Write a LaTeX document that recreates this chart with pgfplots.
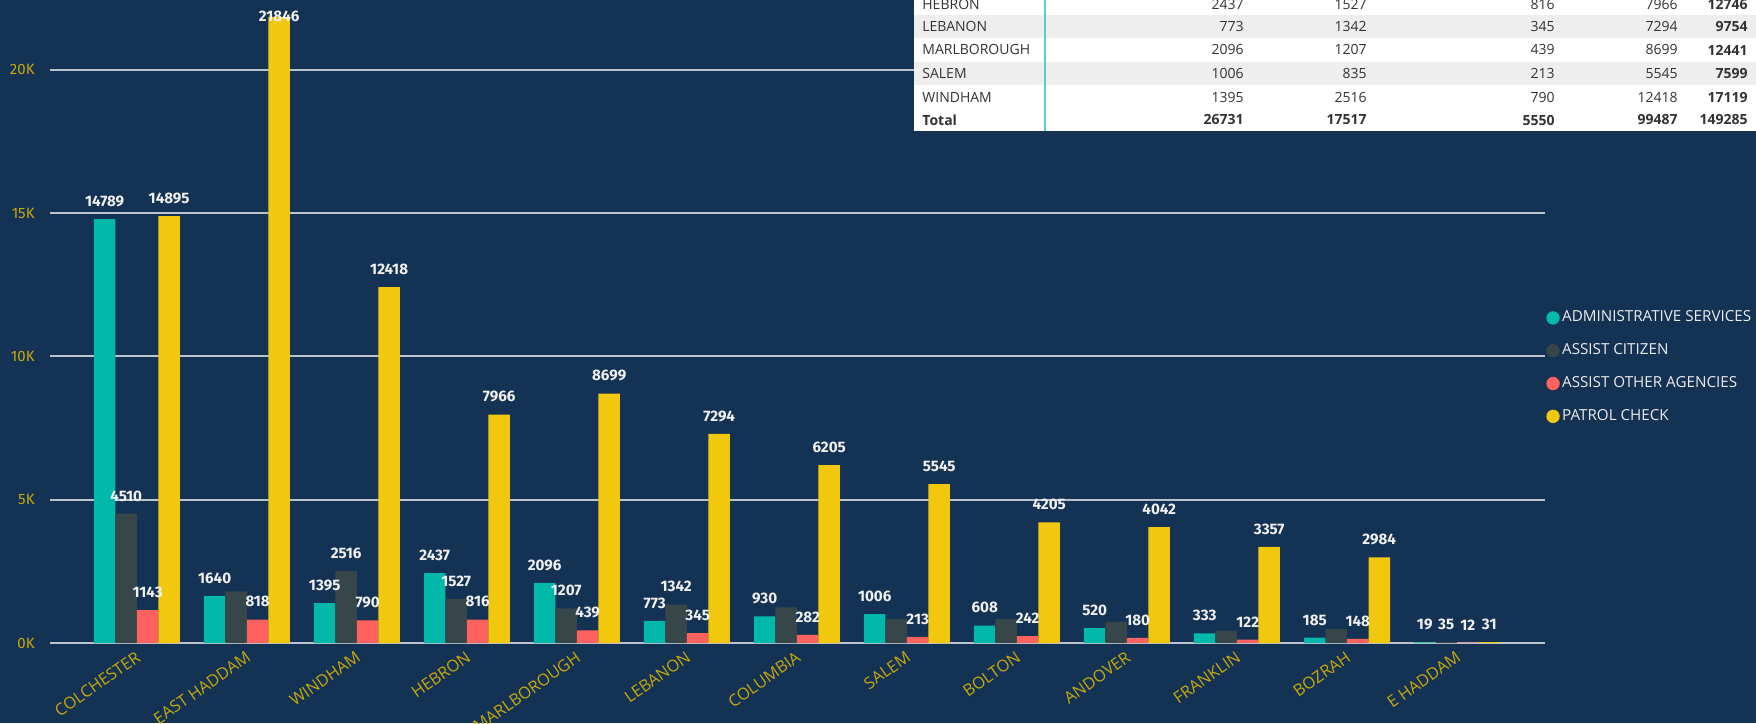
\documentclass[border=0pt]{standalone}
\usepackage{pgfplots}
\pgfplotsset{compat=1.18}
\usepackage{fontspec}
\setmainfont{Open Sans}
\newfontfamily\dinfont{Fira Sans}

\definecolor{bg}{RGB}{19,50,84}
\definecolor{pbteal}{HTML}{01B8AA}
\definecolor{pbdark}{HTML}{374649}
\definecolor{pbred}{HTML}{FD625E}
\definecolor{pbyellow}{HTML}{F2C80F}
\definecolor{gold}{RGB}{201,168,10}
\definecolor{gridc}{RGB}{186,194,206}
\definecolor{lbltext}{RGB}{240,240,240}
\definecolor{legtext}{RGB}{236,236,236}
\definecolor{rowgray}{HTML}{EEEEEE}
\definecolor{tabline}{HTML}{5FCACB}
\definecolor{tabtext}{HTML}{333333}

\pgfplotsset{dotlegend/.style={legend image code/.code={\fill[##1,draw=none] (3.35pt,0pt) circle (3.35pt);}}}

\begin{document}
\begin{tikzpicture}
\fill[bg] (0,0) rectangle (878pt,361.5pt);
\useasboundingbox (0,0) rectangle (878pt,361.5pt);

\begin{axis}[
  at={(25pt,40pt)}, anchor=south west,
  scale only axis, width=747.5pt, height=321.5pt,
  xmin=-0.79, xmax=12.8, ymin=0, ymax=22435,
  ybar=0pt, bar width=10.75pt,
  clip=false,
  axis line style={draw=none},
  major tick length=0pt,
  ymajorgrids, grid style={gridc, line width=1pt},
  ytick={0,5000,10000,15000,20000},
  yticklabels={0K,5K,10K,15K,20K},
  yticklabel style={font=\dinfont\fontsize{7.5}{9}\selectfont, text=gold, anchor=east, inner sep=0pt, xshift=-7.5pt},
  xtick={0,...,12},
  xticklabels={COLCHESTER,EAST HADDAM,WINDHAM,HEBRON,MARLBOROUGH,LEBANON,COLUMBIA,SALEM,BOLTON,ANDOVER,FRANKLIN,BOZRAH,E HADDAM},
  xticklabel style={font=\fontsize{8.2}{10}\selectfont, text=gold, yshift=-3.5pt, xshift=-1pt, rotate=35, anchor=north east, inner sep=0pt},
  point meta=explicit symbolic,
  nodes near coords,
  every node near coord/.append style={font=\dinfont\bfseries\fontsize{7.6}{9}\selectfont, text=lbltext, inner sep=0pt, yshift=6pt, anchor=south},
  legend cell align=left,
  legend style={at={(1.0009,0.429)}, anchor=west, draw=none, fill=none,
    font=\fontsize{7.6}{9}\selectfont, text=legtext, inner sep=0pt, outer sep=0pt,
    row sep=7pt, nodes={inner sep=1.2pt, text=legtext}},
]
\addplot[fill=pbteal, draw=none, dotlegend] coordinates {
  (0,14789)[14789] (1,1640)[1640] (2,1395)[1395] (3,2437)[2437] (4,2096)[2096]
  (5,773)[773] (6,930)[930] (7,1006)[1006] (8,608)[608] (9,520)[520]
  (10,333)[333] (11,185)[185] (12,19)[19]};
\addlegendentry{ADMINISTRATIVE SERVICES}
\addplot[fill=pbdark, draw=none, dotlegend] coordinates {
  (0,4510)[4510] (1,1805)[] (2,2516)[2516] (3,1527)[1527] (4,1207)[1207]
  (5,1342)[1342] (6,1245)[] (7,835)[] (8,835)[] (9,745)[]
  (10,430)[] (11,485)[] (12,35)[35]};
\addlegendentry{ASSIST CITIZEN}
\addplot[fill=pbred, draw=none, dotlegend] coordinates {
  (0,1143)[1143] (1,818)[818] (2,790)[790] (3,816)[816] (4,439)[439]
  (5,345)[345] (6,282)[282] (7,213)[213] (8,242)[242] (9,180)[180]
  (10,122)[122] (11,148)[148] (12,12)[12]};
\addlegendentry{ASSIST OTHER AGENCIES}
\addplot[fill=pbyellow, draw=none, dotlegend] coordinates {
  (0,14895)[14895] (1,21846)[\smash{\raisebox{-9pt}{21846}}] (2,12418)[12418]
  (3,7966)[7966] (4,8699)[8699] (5,7294)[7294] (6,6205)[6205] (7,5545)[5545]
  (8,4205)[4205] (9,4042)[4042] (10,3357)[3357] (11,2984)[2984] (12,31)[31]};
\addlegendentry{PATROL CHECK}
\end{axis}

% summary table, partly cut off at the top
\begin{scope}[x=0.5pt,y=-0.5pt,shift={(0,361.5pt)}]
  \fill[white] (913.6,-20) rectangle (1760,130.7);
  \fill[rowgray] (913.6,15) rectangle (1760,38.3);
  \fill[rowgray] (913.6,61.7) rectangle (1760,85);
  \draw[tabline,line width=1pt] (1044.6,-20) -- (1044.6,130.7);
  \tikzset{tc/.style={text=tabtext,font=\fontsize{7}{8}\selectfont,inner sep=0pt}}
  \foreach \y/\n/\a/\b/\c/\d/\t in {
      5/HEBRON/2437/1527/816/7966/12746,
      26.7/LEBANON/773/1342/345/7294/9754,
      50/MARLBOROUGH/2096/1207/439/8699/12441,
      73.3/SALEM/1006/835/213/5545/7599,
      97.3/WINDHAM/1395/2516/790/12418/17119}{
    \node[tc,anchor=west] at (922,\y) {\n};
    \node[tc,anchor=east] at (1244,\y) {\a};
    \node[tc,anchor=east] at (1367,\y) {\b};
    \node[tc,anchor=east] at (1555,\y) {\c};
    \node[tc,anchor=east] at (1678,\y) {\d};
    \node[tc,anchor=east] at (1748,\y) {\bfseries\t};
  }
  \node[tc,anchor=west] at (922,120) {\bfseries Total};
  \node[tc,anchor=east] at (1244,120) {\bfseries 26731};
  \node[tc,anchor=east] at (1367,120) {\bfseries 17517};
  \node[tc,anchor=east] at (1555,120) {\bfseries 5550};
  \node[tc,anchor=east] at (1678,120) {\bfseries 99487};
  \node[tc,anchor=east] at (1748,120) {\bfseries 149285};
\end{scope}
\end{tikzpicture}
\end{document}
